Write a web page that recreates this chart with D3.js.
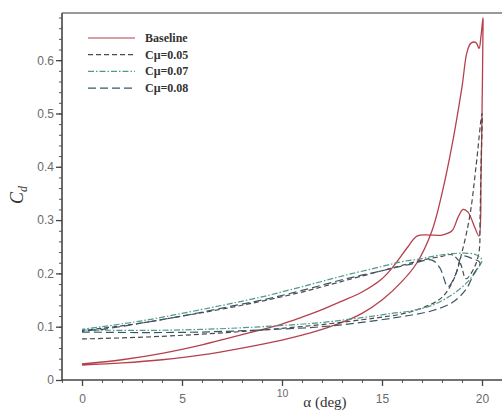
<!DOCTYPE html>
<html><head><meta charset="utf-8">
<script src="https://cdn.jsdelivr.net/npm/d3@7"></script>
<style>body{margin:0;background:#fff}svg{display:block}</style>
</head><body>
<svg id="c" width="502" height="412"></svg>
<script>
// ---- data ----
const xTicks = [0, 5, 10, 15, 20];
const yTicks = [0, 0.1, 0.2, 0.3, 0.4, 0.5, 0.6];
const seriesNames = ["Baseline", "Cμ=0.05", "Cμ=0.07", "Cμ=0.08"];

const baselineAlpha = [0,2,4,6,8,10,11,12,13,14,15,16,16.75,17.5,18,18.5,19,19.25,19.45,19.7,19.85,19.95,20.05,
  20.05,20,19.95,19.85,19.65,19.3,19.05,18.8,18.5,18,17.4,16.75,16.3,15.5,15,14,13,12,11,10,8,6,4,2,0];
const baselineCd = [0.028,0.032,0.038,0.047,0.06,0.075,0.084,0.095,0.108,0.125,0.15,0.185,0.22,0.28,0.35,0.44,0.55,0.615,0.632,0.633,0.622,0.645,0.68,
  0.66,0.5,0.38,0.27,0.285,0.315,0.32,0.305,0.28,0.272,0.272,0.27,0.25,0.21,0.19,0.165,0.148,0.132,0.118,0.105,0.085,0.066,0.05,0.038,0.03];

const cmu05Alpha = [0,2,4,6,8,10,12,14,15,16,17,18,18.6,19,19.4,19.7,20,
  19.95,19.9,19.85,19.6,19.2,18.9,18.5,18,17,16,15,13,11,9,7,5,3,1,0];
const cmu05Cd = [0.077,0.079,0.082,0.086,0.091,0.097,0.104,0.113,0.118,0.124,0.135,0.155,0.19,0.24,0.31,0.4,0.5,
  0.4,0.3,0.24,0.21,0.19,0.22,0.235,0.232,0.225,0.215,0.205,0.185,0.165,0.148,0.133,0.12,0.107,0.097,0.093];

const cmu07Alpha = [0,3,6,9,12,14,15.5,16.5,17.5,18.5,19.3,19.8,20,
  19.7,19,18,17,16,15,13,11,9,7,5,3,1,0];
const cmu07Cd = [0.094,0.093,0.095,0.1,0.108,0.117,0.125,0.13,0.14,0.16,0.185,0.21,0.225,
  0.235,0.238,0.235,0.228,0.222,0.213,0.195,0.175,0.156,0.14,0.125,0.111,0.1,0.095];

const cmu08Alpha = [0,3,6,9,12,14,15.5,16.5,17.5,18.5,19.2,19.6,19.9,
  19.5,19,18.7,18.3,17.9,17.5,16.5,15,13,11,9,7,5,3,1,0];
const cmu08Cd = [0.09,0.089,0.09,0.094,0.1,0.108,0.116,0.122,0.13,0.145,0.17,0.2,0.22,
  0.228,0.232,0.2,0.175,0.21,0.225,0.218,0.205,0.188,0.168,0.15,0.135,0.12,0.107,0.095,0.092];

// ---- styles ----
const styles = [
  {color:"#b5404d", dash:null, width:1.3},
  {color:"#4a4a4a", dash:"5,3", width:1.2},
  {color:"#4f9a88", dash:"6,2,1.5,2", width:1.2},
  {color:"#3c5566", dash:"8,4", width:1.2}
];
const series = [
  d3.zip(baselineAlpha, baselineCd),
  d3.zip(cmu05Alpha, cmu05Cd),
  d3.zip(cmu07Alpha, cmu07Cd),
  d3.zip(cmu08Alpha, cmu08Cd)
];

const svg = d3.select("#c");
const x = d3.scaleLinear().domain([-1, 21]).range([62, 502]);
const y = d3.scaleLinear().domain([0, 0.6885]).range([380, 13]);
const tickFont = "Liberation Sans, Arial, sans-serif";

// top frame
svg.append("line").attr("x1", 62).attr("x2", 502).attr("y1", 13).attr("y2", 13)
  .attr("stroke", "#777").attr("stroke-width", 1.3);

// minor ticks
const yMinor = d3.range(0, 0.681, 0.02);
const xMinor = d3.range(-1, 21.01, 1);
svg.append("g").attr("transform", "translate(62,0)")
  .call(d3.axisLeft(y).tickValues(yMinor).tickSize(3).tickFormat(""))
  .call(g => g.select(".domain").remove())
  .call(g => g.selectAll("line").attr("stroke", "#555"));
svg.append("g").attr("transform", "translate(0,380)")
  .call(d3.axisBottom(x).tickValues(xMinor).tickSize(3).tickFormat(""))
  .call(g => g.select(".domain").remove())
  .call(g => g.selectAll("line").attr("stroke", "#555"));

// major axes
const yAx = svg.append("g").attr("transform", "translate(62,0)")
  .call(d3.axisLeft(y).tickValues(yTicks).tickSize(6).tickPadding(2)
    .tickFormat(d => d === 0 ? "0" : d3.format(".1f")(d)))
  .call(g => g.select(".domain").attr("d", `M0,13V380`).attr("stroke", "#444").attr("stroke-width", 1.6));
yAx.selectAll("line").attr("stroke", "#444").attr("stroke-width", 1.3);
yAx.selectAll("text").attr("font-family", tickFont).attr("font-size", 12).attr("fill", "#6a6a6a");

const xAx = svg.append("g").attr("transform", "translate(0,380)")
  .call(d3.axisBottom(x).tickValues(xTicks).tickSize(6).tickPadding(8))
  .call(g => g.select(".domain").attr("d", `M62,0H502`).attr("stroke", "#444").attr("stroke-width", 1.6));
xAx.selectAll("line").attr("stroke", "#444").attr("stroke-width", 1.3);
xAx.selectAll("text").attr("font-family", tickFont).attr("font-size", 12).attr("fill", "#6a6a6a");
xAx.selectAll(".tick").filter(d => d === 10).select("text")
  .attr("font-size", 10.5).attr("y", 10);

// curves
const line = d3.line().x(d => x(d[0])).y(d => y(d[1])).curve(d3.curveCatmullRom.alpha(0.5));
series.forEach((s, i) => {
  svg.append("path").datum(s).attr("d", line).attr("fill", "none")
    .attr("stroke", styles[i].color).attr("stroke-width", styles[i].width)
    .attr("stroke-dasharray", styles[i].dash);
});

// legend
const lg = svg.append("g");
seriesNames.forEach((n, i) => {
  const yy = 38 + i * 16.7;
  lg.append("line").attr("x1", 88).attr("x2", 135).attr("y1", yy).attr("y2", yy)
    .attr("stroke", styles[i].color).attr("stroke-width", 1.2).attr("stroke-dasharray", styles[i].dash);
  lg.append("text").attr("x", 145).attr("y", yy + 4).text(n)
    .attr("font-family", "Liberation Serif, Times New Roman, serif").attr("font-weight", "bold")
    .attr("font-size", 12).attr("fill", "#333");
});

// axis titles
const yt = svg.append("text").attr("transform", "translate(23,195) rotate(-90)")
  .attr("text-anchor", "middle").attr("font-family", "Liberation Serif, serif")
  .attr("font-style", "italic").attr("font-size", 18).attr("fill", "#333");
yt.append("tspan").text("C");
yt.append("tspan").attr("font-size", 12).attr("dy", 4).text("d");

svg.append("text").attr("x", 325).attr("y", 407).attr("text-anchor", "middle")
  .attr("font-family", "Liberation Serif, serif").attr("font-size", 15).attr("fill", "#333")
  .text("α (deg)");
</script>
</body></html>
